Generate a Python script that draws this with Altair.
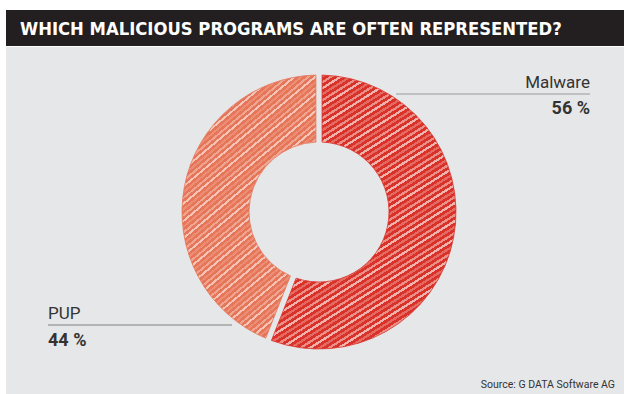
import altair as alt
import pandas as pd

categories = ["Malware", "PUP"]
values = [56, 44]
dark_colors = ["#d8322b", "#e6765a"]
light_colors = [["#ec8f87", "#f2b2ac", "#e56a61"], ["#f0a590", "#f5c4b6", "#ec8d74"]]

title_text = "WHICH MALICIOUS PROGRAMS ARE OFTEN REPRESENTED?"
source_text = "Source: G DATA Software AG"

df = pd.DataFrame({"category": categories, "value": values, "order": [1, 2]})

W, H = 624, 394
one = pd.DataFrame({"a": [0]})


def hatch(dark, lights, n=70, duty=0.55):
    stops = []
    for i in range(n):
        a = i / n
        b = (i + duty) / n
        c = (i + 1) / n
        lt = lights[(i * 7) % len(lights)] if i % 2 else lights[i % len(lights)]
        stops += [
            alt.GradientStop(color=dark, offset=a),
            alt.GradientStop(color=dark, offset=b),
            alt.GradientStop(color=lt, offset=b),
            alt.GradientStop(color=lt, offset=c),
        ]
    return alt.LinearGradient(gradient="linear", stops=stops, x1=-0.05, y1=-0.05, x2=0.5, y2=1.25)


bar = alt.Chart(one).mark_rect(color="#231f20").encode(
    x=alt.value(6), x2=alt.value(624), y=alt.value(10), y2=alt.value(46))
panel = alt.Chart(one).mark_rect(color="#e6e7e8").encode(
    x=alt.value(6), x2=alt.value(624), y=alt.value(47), y2=alt.value(394))
title = alt.Chart(one).mark_text(
    text=title_text, font="DejaVu Sans Condensed", fontWeight="bold", fontSize=18.3,
    color="white", align="left", baseline="alphabetic").encode(
    x=alt.value(20), y=alt.value(35))

base = alt.Chart(df).transform_stack(
    stack="value", as_=["start", "end"], groupby=[], sort=[alt.SortField("order")]
)
slices = []
for i, cat in enumerate(categories):
    slices.append(
        base.transform_filter(alt.datum.category == cat).mark_arc(
            radius=137, innerRadius=70, padAngle=0.04,
            color=hatch(dark_colors[i], light_colors[i]),
            stroke=dark_colors[i], strokeWidth=0.8,
        ).encode(
            theta=alt.Theta("start:Q", scale=alt.Scale(domain=[0, sum(values)])),
            theta2="end:Q",
            x=alt.value(319), y=alt.value(212),
        )
    )

font = "Roboto"


def txt(t, x, y, size, align, bold=False):
    kw = dict(text=t, font=font, fontSize=size, color="#333333", align=align, baseline="alphabetic")
    if bold:
        kw["fontWeight"] = "bold"
    return alt.Chart(one).mark_text(**kw).encode(x=alt.value(x), y=alt.value(y))


m_lab = txt(categories[0], 590, 88, 17, "right")
m_val = txt(f"{values[0]} %", 590, 114, 18, "right", True)
m_line = alt.Chart(one).mark_rule(color="#9a9a9a", strokeWidth=1.2).encode(
    x=alt.value(396), x2=alt.value(590), y=alt.value(94))
p_lab = txt(categories[1], 48, 319, 17, "left")
p_val = txt(f"{values[1]} %", 48, 346, 18, "left", True)
p_line = alt.Chart(one).mark_rule(color="#808080", strokeWidth=1.2).encode(
    x=alt.value(48), x2=alt.value(232), y=alt.value(325))
src = txt(source_text, 615, 388, 10.5, "right")

chart = alt.layer(bar, panel, title, *slices, m_line, m_lab, m_val, p_line, p_lab, p_val, src).properties(
    width=W, height=H, padding=0, autosize=alt.AutoSizeParams(type="none"), background="white"
).configure_view(stroke=None)

chart.save("out.html", embed_options={"renderer": "svg", "actions": False})
